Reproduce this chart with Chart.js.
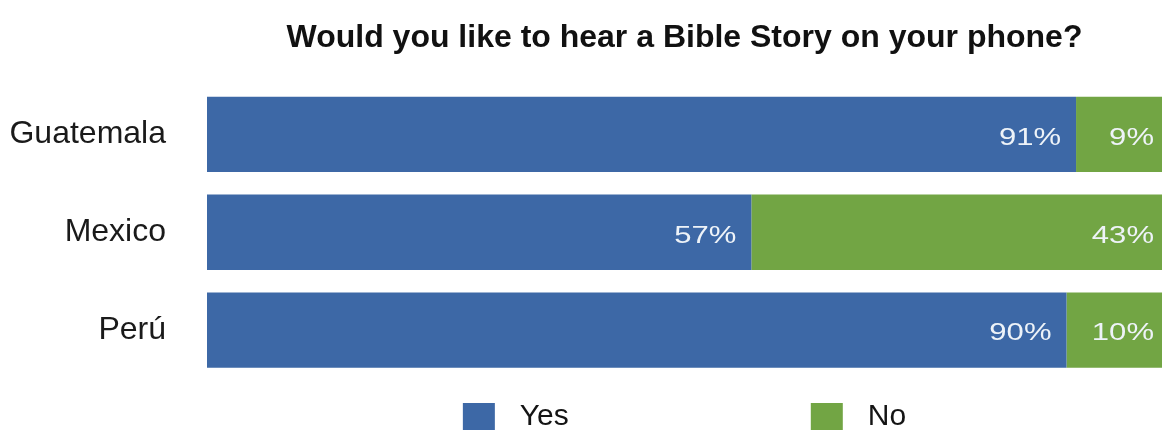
<!DOCTYPE html>
<html>
<head>
<meta charset="utf-8">
<script src="https://cdn.jsdelivr.net/npm/chart.js@4/dist/chart.umd.min.js"></script>
<style>
  html, body { margin: 0; padding: 0; background: #fff; }
  canvas { display: block; }
</style>
</head>
<body>
<canvas id="phoneChart" width="1162" height="430"></canvas>
<script>
// Survey answers, in percent
const countries = ['Guatemala', 'Mexico', 'Perú'];
const yesShare = [91, 57, 90];
const noShare = [9, 43, 10];
const answerNames = ['Yes', 'No'];
const answerColors = ['#3d68a6', '#72a544'];

const FONT = '"Liberation Sans", Helvetica, Arial, sans-serif';

// white percentage text at the right end of every segment
const segmentLabels = {
    id: 'segmentLabels',
    afterDatasetsDraw(chart) {
        const ctx = chart.ctx;
        const right = chart.chartArea.right;
        chart.data.datasets.forEach((ds, i) => {
            chart.getDatasetMeta(i).data.forEach((bar, j) => {
                const pad = bar.x >= right - 1 ? 8 : 15;
                ctx.save();
                ctx.font = '23px ' + FONT;
                ctx.fillStyle = '#eef3f8';
                ctx.textAlign = 'right';
                ctx.textBaseline = 'middle';
                ctx.translate(bar.x - pad, bar.y + 4);
                ctx.scale(1.35, 1);
                ctx.fillText(ds.data[j] + '%', 0, 0);
                ctx.restore();
            });
        });
    }
};

// legend under the bars, wide spacing between the two entries
const wideLegend = {
    id: 'wideLegend',
    afterDraw(chart) {
        const ctx = chart.ctx;
        const area = chart.chartArea;
        const box = 32, gapText = 25, gapItem = 242;
        ctx.save();
        ctx.font = '30px ' + FONT;
        const items = chart.data.datasets.map(ds => ({
            text: ds.label,
            color: ds.backgroundColor,
            w: ctx.measureText(ds.label).width
        }));
        let total = 0;
        items.forEach((it, k) => {
            total += box + gapText + it.w + (k < items.length - 1 ? gapItem : 0);
        });
        let x = (area.left + area.right) / 2 - total / 2;
        const top = area.bottom + 24;
        items.forEach(it => {
            ctx.fillStyle = it.color;
            ctx.fillRect(x, top, box, box);
            x += box + gapText;
            ctx.fillStyle = '#141414';
            ctx.textAlign = 'left';
            ctx.textBaseline = 'middle';
            ctx.fillText(it.text, x, top + 14);
            x += it.w + gapItem;
        });
        ctx.restore();
    }
};

new Chart(document.getElementById('phoneChart'), {
    type: 'bar',
    data: {
        labels: countries,
        datasets: [
            { label: answerNames[0], data: yesShare, backgroundColor: answerColors[0] },
            { label: answerNames[1], data: noShare, backgroundColor: answerColors[1] }
        ]
    },
    options: {
        indexAxis: 'y',
        responsive: false,
        animation: false,
        layout: { padding: { left: 10, right: 0, top: 0, bottom: 51 } },
        datasets: {
            bar: { barPercentage: 1, categoryPercentage: 0.77, borderWidth: 0 }
        },
        scales: {
            x: { stacked: true, min: 0, max: 100, display: false },
            y: {
                stacked: true,
                grid: { display: false, drawTicks: false },
                border: { display: false },
                ticks: {
                    color: '#1a1a1a',
                    padding: 41,
                    font: { family: FONT, size: 32 }
                },
                afterFit(scale) {
                    // fixed gutter for the country names; the tick padding
                    // should not push the plot area away from the legend
                    scale.width = 197;
                    scale.paddingTop = 0;
                    scale.paddingBottom = 0;
                }
            }
        },
        plugins: {
            legend: { display: false },
            tooltip: { enabled: false },
            title: {
                display: true,
                fullSize: false,
                text: 'Would you like to hear a Bible Story on your phone?',
                color: '#111',
                font: { family: FONT, size: 32, weight: 'bold', lineHeight: 1.2 },
                padding: { top: 19, bottom: 28 }
            }
        }
    },
    plugins: [segmentLabels, wideLegend]
});
</script>
</body>
</html>
